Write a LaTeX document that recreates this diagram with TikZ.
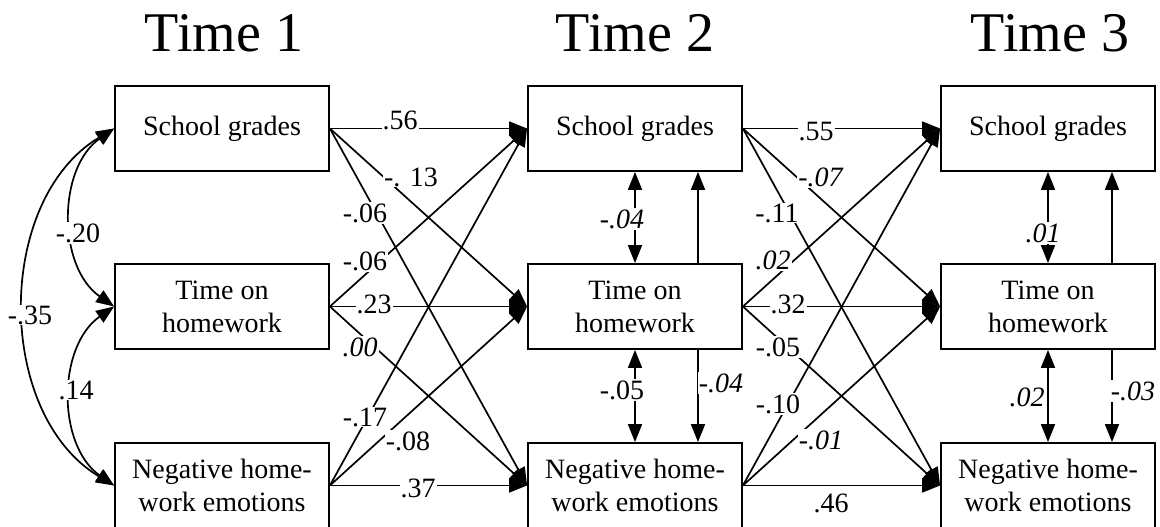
\documentclass[tikz,border=0pt]{standalone}
\usepackage{fontspec}
\setmainfont{Liberation Serif}
\usetikzlibrary{arrows.meta}
\tikzset{
	var/.style={draw,line width=1.8pt,minimum width=214pt,minimum height=85pt,align=center,inner sep=0pt,font=\fontsize{28}{33}\selectfont},
	coef/.style={fill=white,inner sep=1pt,font=\fontsize{28}{30}\selectfont},
	reg/.style={line width=1.7pt,-{Triangle[length=18pt,width=14pt]}},
	cov/.style={line width=1.7pt,{Triangle[length=18pt,width=14pt]}-{Triangle[length=18pt,width=14pt]}},
	wave/.style={anchor=base,font=\fontsize{56}{60}\selectfont}
}
\begin{document}
\begin{tikzpicture}[x=1pt,y=-1pt]
		\useasboundingbox (0,0) rectangle (1160,527);
		\node [wave] at (224,52) (t1) {Time 1};
		\node [wave] at (635,52) (t2) {Time 2};
		\node [wave] at (1050,52) (t3) {Time 3};
		\node [var] at (222,128.5) (sg1) {School grades};
		\node [var] at (222,306.5) (th1) {Time on\\homework};
		\node [var] at (222,485.5) (ne1) {Negative home-\\work emotions};
		\node [var] at (635,128.5) (sg2) {School grades};
		\node [var] at (635,306.5) (th2) {Time on\\homework};
		\node [var] at (635,485.5) (ne2) {Negative home-\\work emotions};
		\node [var] at (1048,128.5) (sg3) {School grades};
		\node [var] at (1048,306.5) (th3) {Time on\\homework};
		\node [var] at (1048,485.5) (ne3) {Negative home-\\work emotions};
		\draw [cov] (sg1.west) to [bend right=55] (th1.west);
		\draw [cov] (th1.west) to [bend right=55] (ne1.west);
		\draw [cov] (sg1.west) to [bend right=59] (ne1.west);
		\draw [reg] (sg1.east) -- (sg2.west);
		\draw [reg] (sg1.east) -- (th2.west);
		\draw [reg] (sg1.east) -- (ne2.west);
		\draw [reg] (th1.east) -- (sg2.west);
		\draw [reg] (th1.east) -- (th2.west);
		\draw [reg] (th1.east) -- (ne2.west);
		\draw [reg] (ne1.east) -- (sg2.west);
		\draw [reg] (ne1.east) -- (th2.west);
		\draw [reg] (ne1.east) -- (ne2.west);
		\draw [reg] (sg2.east) -- (sg3.west);
		\draw [reg] (sg2.east) -- (th3.west);
		\draw [reg] (sg2.east) -- (ne3.west);
		\draw [reg] (th2.east) -- (sg3.west);
		\draw [reg] (th2.east) -- (th3.west);
		\draw [reg] (th2.east) -- (ne3.west);
		\draw [reg] (ne2.east) -- (sg3.west);
		\draw [reg] (ne2.east) -- (th3.west);
		\draw [reg] (ne2.east) -- (ne3.west);
		\draw [cov] (sg2.south) -- (th2.north);
		\draw [cov] (th2.south) -- (ne2.north);
		\draw [reg] ([xshift=63pt]th2.north) -- ([xshift=63pt]sg2.south);
		\draw [reg] ([xshift=63pt]th2.south) -- ([xshift=63pt]ne2.north);
		\draw [cov] (sg3.south) -- (th3.north);
		\draw [cov] (th3.south) -- (ne3.north);
		\draw [reg] ([xshift=64pt]th3.north) -- ([xshift=64pt]sg3.south);
		\draw [reg] ([xshift=64pt]th3.south) -- ([xshift=64pt]ne3.north);
		\node [coef] at (78,233) (c20) {-.20};
		\node [coef] at (76,390) (c14) {.14};
		\node [coef] at (30,315) (c35) {-.35};
		\node [coef] at (400,120) (c56) {.56};
		\node [coef] at (411,177) (c13) {-. 13};
		\node [coef] at (365,213) (c06a) {-.06};
		\node [coef] at (365,261) (c06b) {-.06};
		\node [coef] at (374,304) (c23) {.23};
		\node [coef] at (360,347) (c00) {\textit{.00}};
		\node [coef] at (365,417) (c17) {-.17};
		\node [coef] at (408,441) (c08) {-.08};
		\node [coef] at (418,488) (c37) {.37};
		\node [coef] at (816,132) (c55) {.55};
		\node [coef] at (821,177) (c07) {\textit{-.07}};
		\node [coef] at (777,213) (c11) {-.11};
		\node [coef] at (773,260) (c02a) {\textit{.02}};
		\node [coef] at (788,304) (c32) {.32};
		\node [coef] at (778,347) (c05a) {-.05};
		\node [coef] at (778,404) (c10) {-.10};
		\node [coef] at (821,440) (c01a) {\textit{-.01}};
		\node [coef] at (831,503) (c46) {.46};
		\node [coef] at (622,219) (c04a) {\textit{-.04}};
		\node [coef] at (622,390) (c05b) {-.05};
		\node [coef] at (721,383) (c04b) {\textit{-.04}};
		\node [coef] at (1043,233) (c01b) {\textit{.01}};
		\node [coef] at (1027,397) (c02b) {\textit{.02}};
		\node [coef] at (1133,391) (c03) {\textit{-.03}};
	\end{tikzpicture}
\end{document}
